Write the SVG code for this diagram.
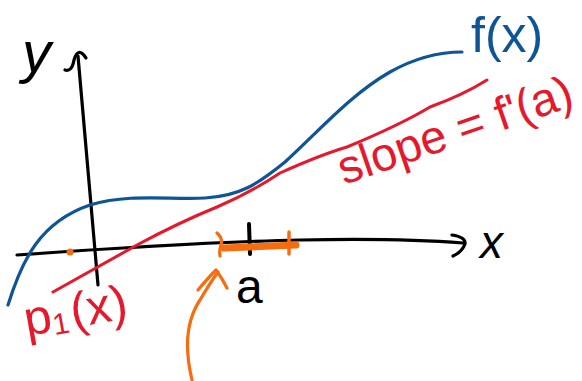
<svg xmlns="http://www.w3.org/2000/svg" width="582" height="381" viewBox="0 0 582 381">
<style>
.s{fill:none;stroke-linecap:round;stroke-linejoin:round}
.k{stroke:#000;stroke-width:3.2}
.b{stroke:#0d5596;stroke-width:3.2}
.r{stroke:#e5182c;stroke-width:3}
.o{stroke:#f56d0f;stroke-width:3.2}
.t{font-family:"Liberation Sans","DejaVu Sans",sans-serif}
</style>
<rect width="582" height="381" fill="#fff"/>
<g id="axes">
<path class="s k" d="M78,56 Q86,150 98,285"/>
<path class="s k" d="M65,70 Q72,72 74,60 Q78,46 86,58"/>
<path class="s k" d="M17,255 Q200,242 300,240 Q400,238 463,243"/>
<path class="s k" d="M452,235 Q466,237 465,244 Q462,252 453,256"/>
<path class="s k" d="M249,224 L250,254" style="stroke-width:4"/>
<text class="t" x="22" y="72" font-size="58" font-style="italic">y</text>
<text class="t" x="480" y="258" font-size="46" font-style="italic">x</text>
<text class="t" x="236" y="303" font-size="48">a</text>
</g>
<g id="f">
<path class="s b" d="M8,305 C22,260 40,222 90,205 C130,193 170,200 205,198 C240,196 258,184 285,162 C320,130 350,95 390,72 C415,58 440,52 462,52"/>
<text class="t" x="471" y="52" font-size="50" fill="#0d5596">f(x)</text>
</g>
<g id="p1">
<path class="s r" d="M53,292 L137,245 Q180,222 217,207 Q250,193 280,173 Q320,155 347,147 Q400,125 430,107 Q463,95 487,80"/>
<text class="t" font-size="49" fill="#e5182c" transform="translate(27,336) rotate(-10)">p<tspan font-size="30" dy="4">1</tspan><tspan dy="-4" dx="3">(x)</tspan></text>
<text class="t" font-size="47" fill="#e5182c" transform="translate(344,185) rotate(-19)">slope = f'(a)</text>
</g>
<g id="interval">
<circle cx="70" cy="252" r="3.5" fill="#f56d0f"/>
<path class="s o" d="M217,233 Q223,238 221,245 Q219,250 220,256"/>
<path class="s o" d="M224,248 L296,245" style="stroke-width:7"/>
<path class="s o" d="M289,232 L289,254" style="stroke-width:3.5"/>
<path class="s o" d="M192,380 Q180,330 200,300 Q210,283 218,272"/>
<path class="s o" d="M198,290 Q208,278 216,270 Q222,278 227,288"/>
</g>
</svg>
